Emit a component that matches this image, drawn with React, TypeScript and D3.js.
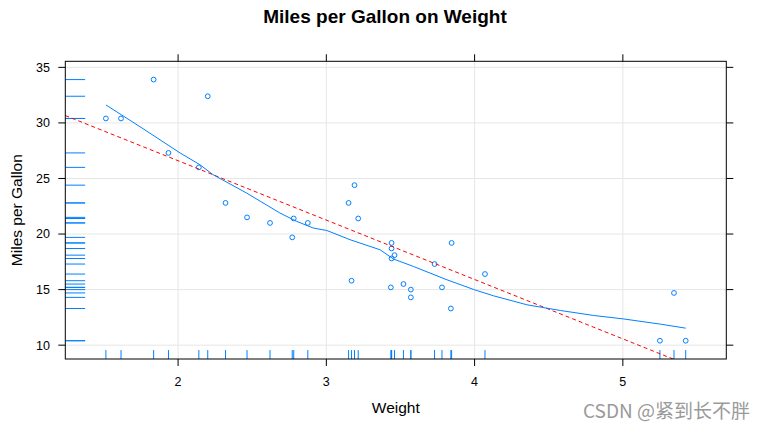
import React from "react";
import * as d3 from "d3";

const weight = [2.62, 2.875, 2.32, 3.215, 3.44, 3.46, 3.57, 3.19, 3.15, 3.44, 3.44, 4.07, 3.73, 3.78, 5.25, 5.424, 5.345, 2.2, 1.615, 1.835, 2.465, 3.52, 3.435, 3.84, 3.845, 1.935, 2.14, 1.513, 3.17, 2.77, 3.57, 2.78];
const mpg = [21.0, 21.0, 22.8, 21.4, 18.7, 18.1, 14.3, 24.4, 22.8, 19.2, 17.8, 16.4, 17.3, 15.2, 10.4, 10.4, 14.7, 32.4, 30.4, 33.9, 21.5, 15.5, 15.2, 13.3, 19.2, 27.3, 26.0, 30.4, 15.8, 19.7, 15.0, 21.4];

const smoothWeight = [1.513, 1.75, 2.013, 2.147, 2.236, 2.462, 2.687, 2.8, 2.912, 3.003, 3.16, 3.363, 3.453, 3.588, 3.814, 4.0, 4.128, 4.354, 4.579, 4.804, 5.0, 5.255, 5.424];
const smoothMpg = [31.62, 29.6, 27.3, 26.24, 25.34, 23.69, 21.89, 21.14, 20.54, 20.32, 19.49, 18.58, 17.75, 17.08, 15.88, 14.98, 14.44, 13.63, 13.12, 12.67, 12.37, 11.89, 11.53];

const regIntercept = 37.285;
const regSlope = -5.344;

const xTicks = [2, 3, 4, 5];
const yTicks = [10, 15, 20, 25, 30, 35];

const title = "Miles per Gallon on Weight";
const xLabel = "Weight";
const yLabel = "Miles per Gallon";
const watermark = "CSDN @紧到长不胖";

const BLUE = "#0080ff";

export default function App() {
  const left = 65.3, right = 726.3, top = 61.3, bottom = 359;
  const x = d3.scaleLinear().domain([1.2392, 5.6978]).range([left, right]);
  const y = d3.scaleLinear().domain([8.755, 35.545]).range([bottom, top]);
  const pw = right - left, ph = bottom - top;

  const line = d3
    .line<number>()
    .x((_, i) => x(smoothWeight[i]))
    .y((d) => y(d));

  const [x0, x1] = x.domain();
  const font = "Liberation Sans, Arial, sans-serif";

  return (
    <svg
      width={765}
      height={430}
      style={{ position: "absolute", left: 0, top: 0, background: "#fff" }}
      fontFamily={font}
    >
      <defs>
        <clipPath id="panel">
          <rect x={left} y={top} width={pw} height={ph} />
        </clipPath>
      </defs>
      <rect x={0} y={0} width={765} height={430} fill="#fff" />
      {xTicks.map((t) => (
        <line key={"gx" + t} x1={x(t)} x2={x(t)} y1={top} y2={bottom} stroke="#e6e6e6" strokeWidth={1} />
      ))}
      {yTicks.map((t) => (
        <line key={"gy" + t} x1={left} x2={right} y1={y(t)} y2={y(t)} stroke="#e6e6e6" strokeWidth={1} />
      ))}
      <g clipPath="url(#panel)">
        {weight.map((w, i) => (
          <line key={"rx" + i} x1={x(w)} x2={x(w)} y1={bottom} y2={bottom - ph * 0.03} stroke={BLUE} strokeWidth={1} />
        ))}
        {mpg.map((m, i) => (
          <line key={"ry" + i} x1={left} x2={left + pw * 0.03} y1={y(m)} y2={y(m)} stroke={BLUE} strokeWidth={1} />
        ))}
        {weight.map((w, i) => (
          <circle key={"p" + i} cx={x(w)} cy={y(mpg[i])} r={2.4} fill="none" stroke={BLUE} strokeWidth={1} />
        ))}
        <line
          x1={x(x0)}
          y1={y(regIntercept + regSlope * x0)}
          x2={x(x1)}
          y2={y(regIntercept + regSlope * x1)}
          stroke="red"
          strokeWidth={1}
          strokeDasharray="4,3"
        />
        <path d={line(smoothMpg) || ""} fill="none" stroke={BLUE} strokeWidth={1} />
      </g>
      <rect x={left} y={top} width={pw} height={ph} fill="none" stroke="#000" strokeWidth={1} />
      {xTicks.map((t) => (
        <g key={"tx" + t}>
          <line x1={x(t)} x2={x(t)} y1={bottom} y2={bottom + 7} stroke="#000" />
          <line x1={x(t)} x2={x(t)} y1={top} y2={top - 7} stroke="#000" />
          <text x={x(t)} y={386} textAnchor="middle" fontSize={12.5} fill="#000">
            {t}
          </text>
        </g>
      ))}
      {yTicks.map((t) => (
        <g key={"ty" + t}>
          <line x1={left} x2={left - 7} y1={y(t)} y2={y(t)} stroke="#000" />
          <line x1={right} x2={right + 7} y1={y(t)} y2={y(t)} stroke="#000" />
          <text x={50} y={y(t)} dy="0.35em" textAnchor="end" fontSize={12.5} fill="#000">
            {t}
          </text>
        </g>
      ))}
      <text x={385} y={22.7} textAnchor="middle" fontSize={19} fontWeight="bold" fill="#000">
        {title}
      </text>
      <text x={(left + right) / 2} y={413.3} textAnchor="middle" fontSize={15.5} fill="#000">
        {xLabel}
      </text>
      <text
        transform={`translate(22,${(top + bottom) / 2}) rotate(-90)`}
        textAnchor="middle"
        fontSize={15.5}
        fill="#000"
      >
        {yLabel}
      </text>
      <text x={750} y={418} textAnchor="end" fontSize={19} fill="#9a9a9a" fontFamily="Noto Sans CJK SC, sans-serif">
        {watermark}
      </text>
    </svg>
  );
}
